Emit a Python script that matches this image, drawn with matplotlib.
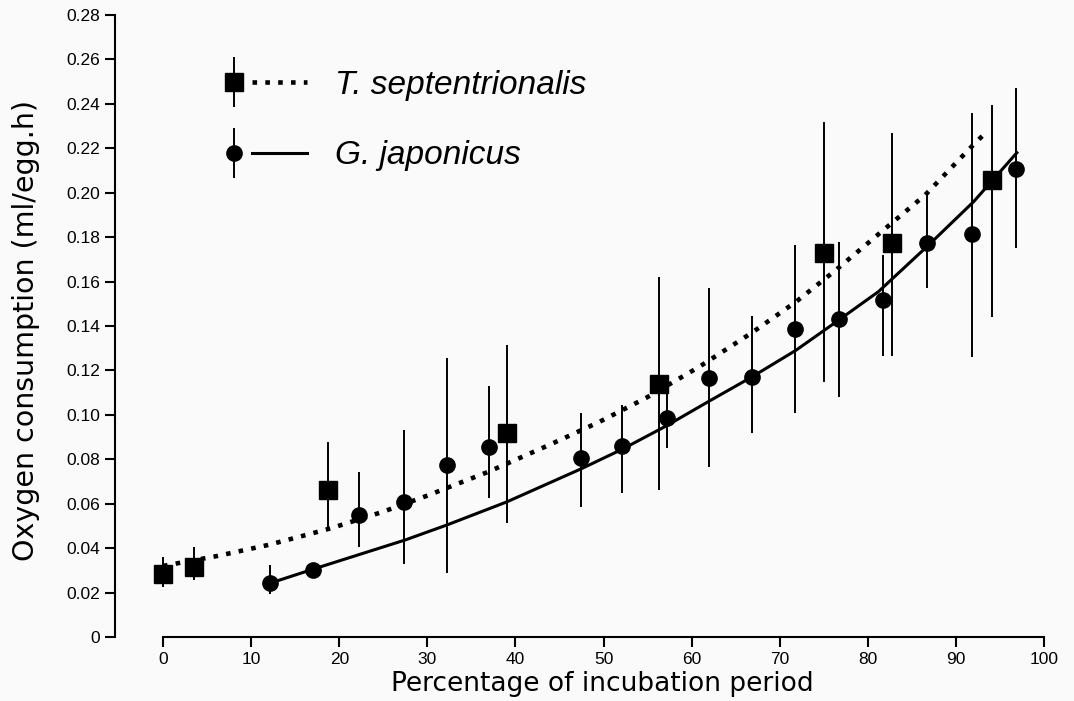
import matplotlib
matplotlib.use("Agg")
import matplotlib.pyplot as plt
import numpy as np
from matplotlib.container import ErrorbarContainer
from matplotlib.legend_handler import HandlerTuple, HandlerErrorbar

# ---- data ----
ts_x = [0.0, 3.5, 18.7, 39.0, 56.3, 75.0, 82.7, 94.1]
ts_y = [0.0284, 0.0315, 0.0662, 0.0918, 0.1139, 0.1729, 0.1774, 0.2058]
ts_lo = [0.0225, 0.0257, 0.0490, 0.0513, 0.0662, 0.1148, 0.1265, 0.1440]
ts_hi = [0.0360, 0.0405, 0.0878, 0.1315, 0.1620, 0.2320, 0.2270, 0.2395]

gj_x = [12.1, 17.0, 22.2, 27.4, 32.2, 37.0, 47.4, 52.1, 57.2, 62.0, 66.8,
        71.7, 76.7, 81.7, 86.7, 91.8, 96.8]
gj_y = [0.0243, 0.0302, 0.0549, 0.0608, 0.0775, 0.0855, 0.0806, 0.0860,
        0.0986, 0.1164, 0.1170, 0.1385, 0.1432, 0.1517, 0.1774, 0.1815, 0.2107]
gj_lo = [0.0194, 0.0266, 0.0405, 0.0330, 0.0288, 0.0626, 0.0585, 0.0648,
         0.0850, 0.0765, 0.0918, 0.1008, 0.1080, 0.1265, 0.1570, 0.1260, 0.1750]
gj_hi = [0.0324, 0.0333, 0.0743, 0.0930, 0.1256, 0.1130, 0.1008, 0.1045,
         0.1100, 0.1570, 0.1445, 0.1765, 0.1780, 0.1720, 0.2000, 0.2360, 0.2470]

# fitted curves
ts_fit_x = [0.0, 6.2, 11.9, 16.3, 19.1, 24.9, 29.9, 37.0, 43.8, 49.5, 54.8,
            60.8, 66.8, 71.8, 76.3, 82.0, 86.5, 91.7, 93.6]
ts_fit_y = [0.0320, 0.0365, 0.0414, 0.0460, 0.0490, 0.0563, 0.0635, 0.0745,
            0.0864, 0.0968, 0.1076, 0.1215, 0.1369, 0.1508, 0.1650, 0.1840,
            0.1990, 0.2205, 0.2280]
gj_fit_x = [12.2, 17.4, 27.5, 32.2, 39.0, 47.5, 52.1, 57.1, 61.9, 66.8, 71.8,
            76.7, 81.2, 86.9, 92.0, 96.9]
gj_fit_y = [0.0243, 0.0310, 0.0437, 0.0504, 0.0608, 0.0758, 0.0845, 0.0950,
            0.1060, 0.1170, 0.1290, 0.1427, 0.1555, 0.1765, 0.1960, 0.2180]

x_ticks = [0, 10, 20, 30, 40, 50, 60, 70, 80, 90, 100]
y_ticks = [0, 0.02, 0.04, 0.06, 0.08, 0.10, 0.12, 0.14, 0.16, 0.18, 0.20,
           0.22, 0.24, 0.26, 0.28]
y_tick_labels = ["0", "0.02", "0.04", "0.06", "0.08", "0.10", "0.12", "0.14",
                 "0.16", "0.18", "0.20", "0.22", "0.24", "0.26", "0.28"]
label_ts = "T. septentrionalis"
label_gj = "G. japonicus"
xlabel = "Percentage of incubation period"
ylabel = "Oxygen consumption (ml/egg.h)"

# ---- figure ----
W, H = 1074, 701
fig = plt.figure(figsize=(W / 100, H / 100), dpi=100)
bg = "#fafafa"
fig.patch.set_facecolor(bg)

L, R, B, T = 115, 1053, 637, 15
ax = fig.add_axes([L / W, 1 - B / H, (R - L) / W, (B - T) / H])
ax.set_facecolor(bg)
ax.set_xlim(-5.45, 101.0)
ax.set_ylim(0, 0.28)

ts_y_arr = np.array(ts_y)
gj_y_arr = np.array(gj_y)
ts_err = [ts_y_arr - np.array(ts_lo), np.array(ts_hi) - ts_y_arr]
gj_err = [gj_y_arr - np.array(gj_lo), np.array(gj_hi) - gj_y_arr]

line_ts, = ax.plot(ts_fit_x, ts_fit_y, color="black", lw=3.3,
                   linestyle=(0, (1, 1.8)), dash_capstyle="butt", zorder=2)
line_gj, = ax.plot(gj_fit_x, gj_fit_y, color="black", lw=2.2,
                   linestyle="-", zorder=2)

eb_ts = ax.errorbar(ts_x, ts_y, yerr=ts_err, fmt="s", color="black",
                    ms=13, elinewidth=1.4, capsize=0, zorder=3)
eb_gj = ax.errorbar(gj_x, gj_y, yerr=gj_err, fmt="o", color="black",
                    ms=11, elinewidth=1.4, capsize=0, zorder=3)

# axes styling
for s in ["top", "right"]:
    ax.spines[s].set_visible(False)
ax.spines["left"].set_bounds(0, 0.28)
ax.spines["bottom"].set_bounds(0, 100)
ax.spines["left"].set_linewidth(1.5)
ax.spines["bottom"].set_linewidth(1.5)

ax.set_xticks(x_ticks)
ax.set_xticklabels([str(v) for v in x_ticks])
ax.set_yticks(y_ticks)
ax.set_yticklabels(y_tick_labels)
ax.tick_params(axis="both", direction="out", length=7, width=1.5,
               pad=3.5, labelsize=12.5)
for lab in ax.get_xticklabels() + ax.get_yticklabels():
    lab.set_family("Liberation Sans")

ax.set_xlabel(xlabel, fontsize=19, family="DejaVu Sans")
ax.set_ylabel(ylabel, fontsize=20.5, family="DejaVu Sans")
ax.xaxis.set_label_coords((602 - L) / (R - L), (B - 671) / (B - T))
ax.yaxis.set_label_coords((40 - L) / (R - L), (B - 330) / (B - T))

fs_leg = 24
px = fs_leg * 100 / 72
leg = ax.legend(
    [(eb_ts, line_ts), (eb_gj, line_gj)], [label_ts, label_gj],
    handler_map={tuple: HandlerTuple(ndivide=None, pad=-9.5 / px),
                 ErrorbarContainer: HandlerErrorbar(xerr_size=0.5, yerr_size=25 / px)},
    loc="upper left", bbox_to_anchor=(206.5 / W, 1 - 70 / H),
    bbox_transform=fig.transFigure, frameon=False, borderpad=0,
    borderaxespad=0, handlelength=100.5 / px, handletextpad=28 / px,
    labelspacing=1.18, numpoints=1,
    prop={"family": "Liberation Sans", "style": "italic", "size": fs_leg})

fig.savefig("out.png", dpi=100, facecolor=bg)
